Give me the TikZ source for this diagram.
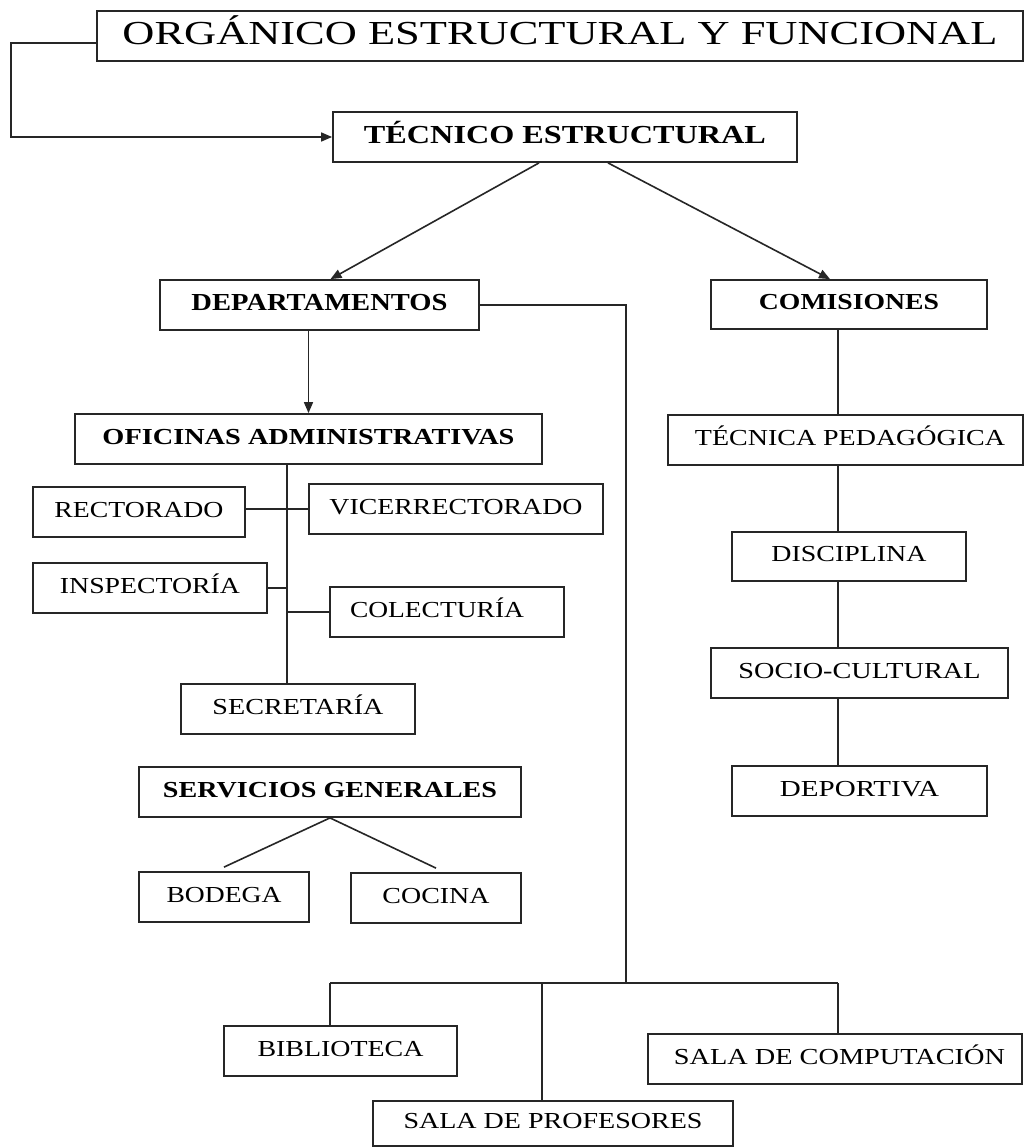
\documentclass[tikz,border=0pt]{standalone}
\usepackage{fontspec}
\setmainfont{Liberation Serif}
\usepackage{graphicx}
\usetikzlibrary{arrows.meta}

% Caps text scaled to a given width and cap height; a small depth lifts it a bit.
\newcommand\capfit[3]{\resizebox{#1}{#2}{\rule{0pt}{\fontcharht\font`X}\smash{#3}}\rule[-5pt]{0pt}{5pt}}

\begin{document}
\begin{tikzpicture}[x=1pt,y=-1pt,
  box/.style={draw=black!85, line width=1.8pt, inner sep=0pt, rectangle},
  link/.style={draw=black!85, line width=1.6pt},
  arr/.style={link, -{Triangle[length=11pt,width=9pt]}}]
\useasboundingbox[fill=white] (0,0) rectangle (1025,1148);

% top levels
\node[box, minimum width=926pt, minimum height=50pt] (title) at (560,36)
  {\capfit{875pt}{22pt}{ORGÁNICO ESTRUCTURAL Y FUNCIONAL}};
\node[box, minimum width=464pt, minimum height=50pt] (tec) at (565,137)
  {\capfit{402pt}{17pt}{\bfseries TÉCNICO ESTRUCTURAL}};
\node[box, minimum width=319pt, minimum height=50pt] (dep) at (319.5,305)
  {\capfit{256pt}{16pt}{\bfseries DEPARTAMENTOS}};
\node[box, minimum width=276pt, minimum height=49pt] (com) at (849,304.5)
  {\capfit{180pt}{15pt}{\bfseries COMISIONES}};

% offices
\node[box, minimum width=467pt, minimum height=50pt] (ofi) at (308.5,439)
  {\capfit{412pt}{15pt}{\bfseries OFICINAS ADMINISTRATIVAS}};
\node[box, minimum width=212pt, minimum height=50pt] (rect) at (139,512)
  {\capfit{169pt}{15pt}{RECTORADO}};
\node[box, minimum width=294pt, minimum height=50pt] (vice) at (456,509)
  {\capfit{253pt}{15pt}{VICERRECTORADO}};
\node[box, minimum width=234pt, minimum height=50pt] (insp) at (150,588)
  {\capfit{180pt}{15pt}{INSPECTORÍA}};
\node[box, minimum width=234pt, minimum height=50pt] (col) at (447,612)
  {\capfit{174pt}{15pt}{COLECTURÍA}\hspace*{20pt}};
\node[box, minimum width=234pt, minimum height=50pt] (sec) at (298,709)
  {\capfit{171pt}{15pt}{SECRETARÍA}};

% general services
\node[box, minimum width=382pt, minimum height=50pt] (serv) at (330,792)
  {\capfit{334pt}{15pt}{\bfseries SERVICIOS GENERALES}};
\node[box, minimum width=170pt, minimum height=50pt] (bod) at (224,897)
  {\capfit{115pt}{15pt}{BODEGA}};
\node[box, minimum width=170pt, minimum height=50pt] (coc) at (436,898)
  {\capfit{107pt}{15pt}{COCINA}};

% commissions
\node[box, minimum width=355pt, minimum height=50pt] (tp) at (845.5,440)
  {\hspace*{9pt}\capfit{310pt}{15pt}{TÉCNICA PEDAGÓGICA}};
\node[box, minimum width=234pt, minimum height=49pt] (dis) at (849,556.5)
  {\capfit{155pt}{15pt}{DISCIPLINA}};
\node[box, minimum width=297pt, minimum height=50pt] (soc) at (859.5,673)
  {\capfit{242pt}{15pt}{SOCIO-CULTURAL}};
\node[box, minimum width=255pt, minimum height=50pt] (dpt) at (859.5,791)
  {\capfit{159pt}{15pt}{DEPORTIVA}};

% rooms
\node[box, minimum width=233pt, minimum height=50pt] (bib) at (340.5,1051)
  {\capfit{166pt}{15pt}{BIBLIOTECA}};
\node[box, minimum width=374pt, minimum height=50pt] (comp) at (835,1059)
  {\hspace*{9pt}\capfit{331pt}{15pt}{SALA DE COMPUTACIÓN}};
\node[box, minimum width=360pt, minimum height=45pt] (pro) at (553,1123.5)
  {\capfit{299pt}{15pt}{SALA DE PROFESORES}};

% connectors
\draw[arr] ([yshift=-7pt]title.west) -- ++(-85,0) |- (tec.west);
\draw[arr] ([xshift=-26pt]tec.south) -- ([xshift=11pt]dep.north);
\draw[arr] ([xshift=43pt]tec.south) -- ([xshift=-19pt]com.north);
\draw[arr] (dep.south -| ofi.north) -- (ofi.north);

\coordinate (sp) at (287,464);
\draw[link] (sp) -- (sp |- sec.north);
\draw[link] (vice.west -| rect.east) -- (vice.west);
\draw[link] (insp.east) -- (insp.east -| sp);
\draw[link] (col.west -| sp) -- (col.west);

\draw[link] (serv.south) -- ([yshift=4pt]bod.north);
\draw[link] (serv.south) -- ([yshift=4pt]coc.north);

\coordinate (bus) at (626,983);
\coordinate (busL) at (330,983);
\coordinate (busM) at (542,983);
\coordinate (busR) at (838,983);
\draw[link] (dep.east) -| (bus);
\draw[link] (busL) -- (busR);
\draw[link] (busL) -- (busL |- bib.north);
\draw[link] (busM) -- (busM |- pro.north);
\draw[link] (busR) -- (busR |- comp.north);

\coordinate (cx) at (838,0);
\draw[link] (com.south -| cx) -- (tp.north -| cx);
\draw[link] (tp.south -| cx) -- (dis.north -| cx);
\draw[link] (dis.south -| cx) -- (soc.north -| cx);
\draw[link] (soc.south -| cx) -- (dpt.north -| cx);
\end{tikzpicture}
\end{document}
